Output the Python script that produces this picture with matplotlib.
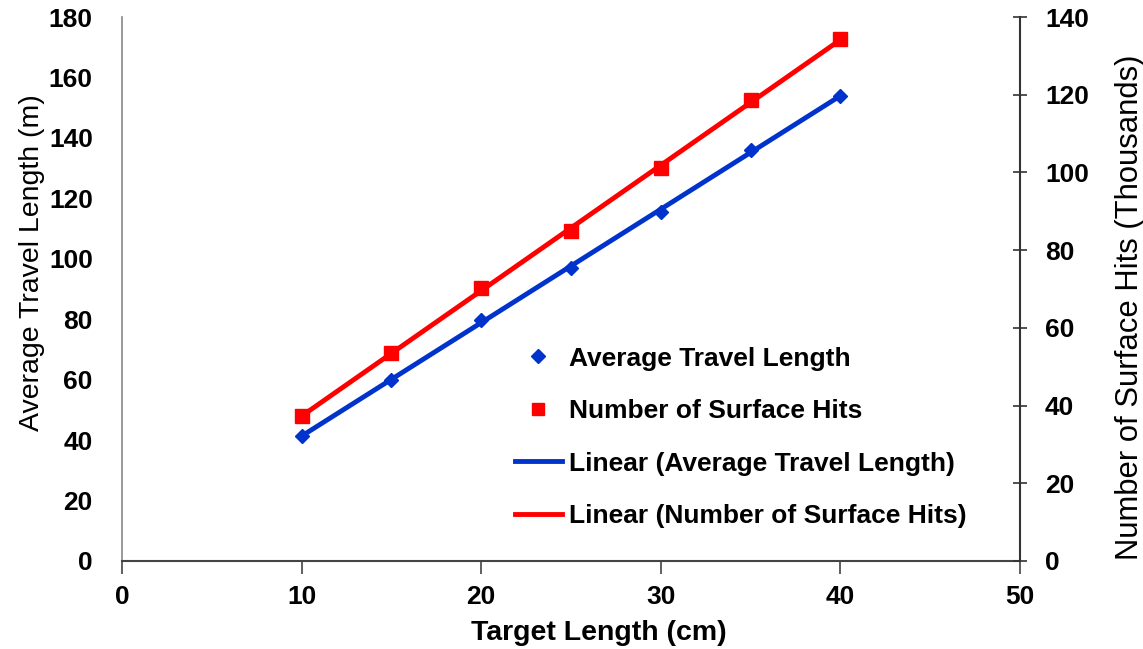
import numpy as np
import matplotlib
matplotlib.use("Agg")
import matplotlib.pyplot as plt
from matplotlib.lines import Line2D

plt.rcParams['font.family'] = ['Liberation Sans', 'DejaVu Sans']

# data
target_len = [10, 15, 20, 25, 30, 35, 40]
travel_len = [41.4, 59.9, 79.7, 97.0, 115.5, 136.0, 153.9]
surface_hits = [37.3, 53.5, 70.3, 84.9, 101.1, 118.6, 134.3]

x_ticks = [0, 10, 20, 30, 40, 50]
left_ticks = [0, 20, 40, 60, 80, 100, 120, 140, 160, 180]
right_ticks = [0, 20, 40, 60, 80, 100, 120, 140]

blue = '#0033cc'
red = '#ff0000'

fig = plt.figure(figsize=(11.43, 6.49), dpi=100)
ax = fig.add_axes([0.1067, 0.1356, 0.7857, 0.8382])
ax2 = ax.twinx()

# linear trend lines
xs = np.array(target_len, dtype=float)
p1 = np.polyfit(xs, travel_len, 1)
p2 = np.polyfit(xs, surface_hits, 1)
ax.plot(xs, np.polyval(p1, xs), color=blue, lw=3.5, zorder=2)
ax2.plot(xs, np.polyval(p2, xs), color=red, lw=3.5, zorder=2)

ax.plot(target_len, travel_len, 'D', color=blue, ms=7, ls='none', zorder=3)
ax2.plot(target_len, surface_hits, 's', color=red, ms=10, ls='none', zorder=3)

ax.set_xlim(0, 50)
ax.set_ylim(0, 180)
ax2.set_ylim(0, 140)
ax.set_xticks(x_ticks)
ax.set_yticks(left_ticks)
ax2.set_yticks(right_ticks)

for a in (ax, ax2):
    a.spines['top'].set_visible(False)
ax.spines['right'].set_visible(False)
ax.spines['left'].set_color('#888888')
ax.spines['left'].set_linewidth(1.2)
ax.spines['bottom'].set_color('#444444')
ax.spines['bottom'].set_linewidth(1.5)
ax2.spines['left'].set_visible(False)
ax2.spines['bottom'].set_visible(False)
ax2.spines['right'].set_color('#333333')
ax2.spines['right'].set_linewidth(1.5)

ax.tick_params(axis='x', direction='out', length=9, width=1.2, color='#444444',
               labelsize=19, pad=8)
ax.tick_params(axis='y', direction='out', length=0, labelsize=19, pad=21)
ax2.tick_params(axis='y', direction='inout', length=10, width=1.2, color='#333333',
                labelsize=19, pad=13)
for lab in ax.get_xticklabels() + ax.get_yticklabels() + ax2.get_yticklabels():
    lab.set_fontweight('bold')

ax.set_xlabel('Target Length (cm)', fontsize=20.5, fontweight='bold')
ax.set_ylabel('Average Travel Length (m)', fontsize=20.5)
ax2.set_ylabel('Number of Surface Hits (Thousands)', fontsize=22.3)
ax.xaxis.set_label_coords(0.531, -0.108)
ax.yaxis.set_label_coords(-0.0857, 0.548)
ax2.yaxis.set_label_coords(1.1058, 0.467)

handles = [
    Line2D([], [], marker='D', color=blue, ls='none', ms=7),
    Line2D([], [], marker='s', color=red, ls='none', ms=9),
    Line2D([], [], color=blue, lw=3.5),
    Line2D([], [], color=red, lw=3.5),
]
labels = ['Average Travel Length', 'Number of Surface Hits',
          'Linear (Average Travel Length)', 'Linear (Number of Surface Hits)']
leg = ax.legend(handles, labels, loc='upper left', bbox_to_anchor=(0.4376, 0.394),
                frameon=False, prop={'size': 19, 'weight': 'bold'},
                borderpad=0, borderaxespad=0,
                labelspacing=1.08, handlelength=1.78, handletextpad=0.25)

fig.savefig('out.png', dpi=100)
